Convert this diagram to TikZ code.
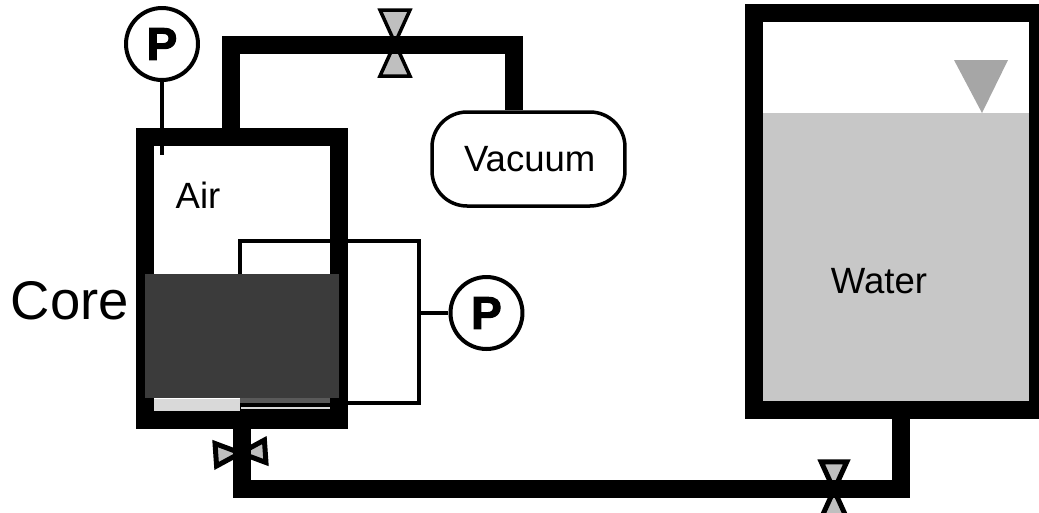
\documentclass[tikz,border=0pt]{standalone}
\usepackage{fontspec}
\setmainfont{Liberation Sans}
\newfontfamily\gaugefont[BoldFeatures={FakeBold=2.5}]{Liberation Sans}
\usetikzlibrary{positioning}

\begin{document}
\begin{tikzpicture}[
    x=0.02cm, y=-0.02cm,
    vessel/.style={rectangle, draw=black, line width=3.6mm},
    pipe/.style={draw=black, line width=3.6mm},
    wire/.style={draw=black, line width=0.75mm},
    gauge/.style={circle, draw=black, line width=0.8mm, fill=white, minimum size=14.4mm, inner sep=0pt, font=\fontsize{26}{26}\gaugefont\bfseries},
    lbl/.style={font=\fontsize{20.8}{22}\selectfont, inner sep=0pt},
    fillbox/.style={rectangle, draw=none, inner sep=0pt},
    valve/.pic={\draw[draw=black, fill=black!25, line join=miter] (-15,-33) -- (15,-33) -- (-15,33) -- (15,33) -- cycle;}
]
\path[use as bounding box, clip] (0,0) rectangle (1039,512);

% --- Water tank ---
\node[fillbox, fill=black!22, minimum width=53.4mm, minimum height=57.8mm] (water) at (896.5,257.5) {};
\node[vessel, minimum width=56.8mm, minimum height=79.4mm] (tank) at (896,211.5) {};
\draw[draw=none, fill=black!35] (954,60) -- (1008,60) -- (982,113) -- cycle;
\node[lbl] (waterlbl) at (879,281) {Water};

% --- Core holder ---
\node[fillbox, fill=black!15, minimum width=35.4mm, minimum height=2.4mm] (filter) at (242.5,404.5) {};
\node[fillbox, fill=black, minimum width=18.2mm, minimum height=2.4mm] (filterend) at (285.5,404.5) {};
\node[fillbox, fill=black!65, minimum width=18.2mm, minimum height=1mm] (filtertop) at (285.5,400.5) {};
\node[fillbox, fill=black!15, minimum width=18mm, minimum height=0.5mm] (filterline) at (285.5,408) {};
\node[vessel, minimum width=38.9mm, minimum height=56.6mm] (holder) at (242,278.5) {};
\node[fillbox, fill=black!77, minimum width=39mm, minimum height=24.8mm] (core) at (242,336) {};
\node[lbl] (airlbl) at (198,195) {Air};
\node[lbl, font=\fontsize{31}{32}\selectfont, left=1.3mm of holder.west, yshift=-4.4mm] (corelbl) {Core};

% --- Valves (under the pipes) ---
\coordinate (topvalve) at (395,43);
\coordinate (leftvalve) at (240.5,453);
\coordinate (rightvalve) at (834,490);
\pic[line width=0.7mm] at (topvalve) {valve};
\pic[line width=1mm, rotate=94, scale=.75] at (leftvalve) {valve};
\pic[line width=1mm, scale=.85] at (rightvalve) {valve};

% --- Vacuum line ---
\node[rectangle, draw=black, line width=0.7mm, rounded corners=7mm, minimum width=38.6mm, minimum height=18.8mm, lbl] (vacuum) at (528.5,159) {\hspace{0.5mm}Vacuum};
\coordinate (toppipe) at (395,45);
\draw[pipe] ([xshift=-2.2mm, yshift=-0.4mm]holder.north) |- (toppipe) -| (vacuum.north -| 514,0);

% --- Water line ---
\coordinate (lowpipe) at (834,489);
\draw[pipe] ([yshift=0.4mm]holder.south) |- (lowpipe) -| ([xshift=0.9mm, yshift=0.4mm]tank.south);

% --- Pressure gauges ---
\node[gauge] (gaugetop) at (162,44) {P};
\coordinate (taptop) at (162,155);
\draw[wire] (gaugetop) -- (taptop);

\coordinate (loopmid) at (419,313);
\node[gauge, right=5.9mm of loopmid] (gaugeside) {P};
\coordinate (looptop) at (419,241);
\coordinate (loopbot) at (419,403);
\draw[wire] (gaugeside) -- (loopmid);
\draw[wire] (core.north -| 240,0) |- (looptop) |- (holder.east |- loopbot);
\end{tikzpicture}
\end{document}
